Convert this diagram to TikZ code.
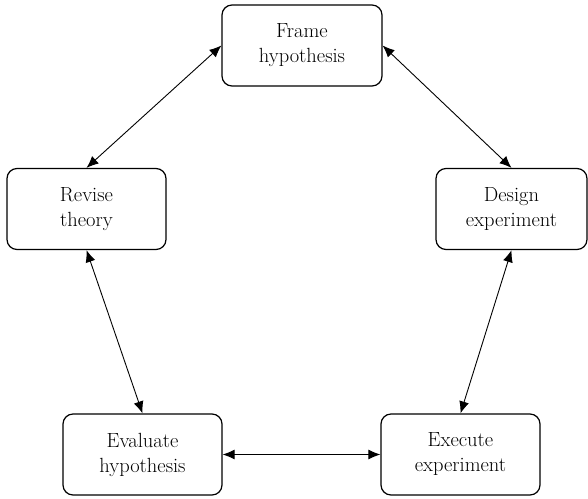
\documentclass[tikz,border=0pt]{standalone}
\usetikzlibrary{arrows.meta}
\begin{document}
\begin{tikzpicture}[x=1pt,y=-1pt,
  stagebox/.style={draw, line width=1.2pt, rounded corners=10pt, align=center,
    minimum height=81pt, inner sep=0pt,
    font=\fontsize{20.5}{25}\selectfont},
  link/.style={line width=0.9pt, {Latex[length=12pt,width=10pt]}-{Latex[length=12pt,width=10pt]}}]
  \useasboundingbox (0,0) rectangle (588,498);

  % research cycle stages
  \node[stagebox, minimum width=160pt] (frame)    at (302,45.5)  {Frame\\hypothesis};
  \node[stagebox, minimum width=159pt] (revise)   at (86.5,209)  {Revise\\theory};
  \node[stagebox, minimum width=151pt] (design)   at (511.5,209) {Design\\experiment};
  \node[stagebox, minimum width=159pt] (evaluate) at (142.5,454.5) {Evaluate\\hypothesis};
  \node[stagebox, minimum width=159pt] (execute)  at (460.5,454.5) {Execute\\experiment};

  % two-way links between neighbouring stages
  \draw[link] (frame.west)    -- (revise.north);
  \draw[link] (frame.east)    -- (design.north);
  \draw[link] (revise.south)  -- (evaluate.north);
  \draw[link] (design.south)  -- (execute.north);
  \draw[link] (evaluate.east) -- (execute.west);
\end{tikzpicture}
\end{document}
